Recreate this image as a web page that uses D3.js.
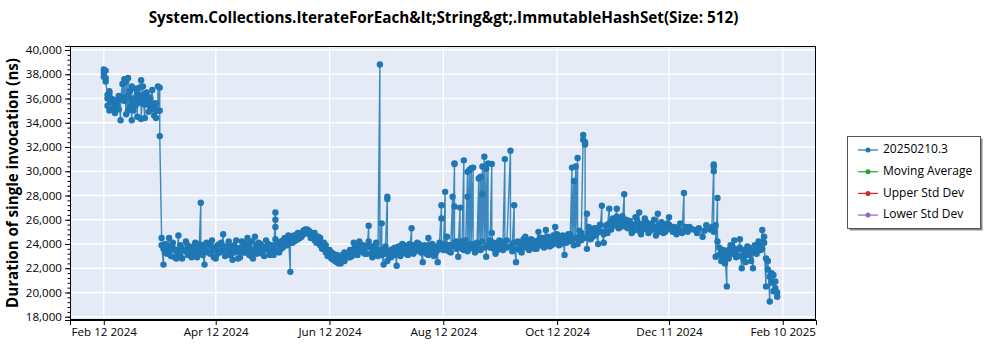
<!DOCTYPE html>
<html><head><meta charset="utf-8">
<script src="https://cdn.jsdelivr.net/npm/d3@7"></script>
<style>body{margin:0;background:#fff;} svg text{font-family:"Open Sans","Noto Sans",sans-serif;}</style>
</head><body><svg id="c" width="1000" height="350"></svg>
<script>
const chartTitle = "System.Collections.IterateForEach&lt;String&gt;.ImmutableHashSet(Size: 512)";
const yAxisTitle = "Duration of single invocation (ns)";
const startDate = "2024-02-12";
const seriesNames = ["20250210.3", "Moving Average", "Upper Std Dev", "Lower Std Dev"];
const seriesColors = ["#1f77b4", "#2ca02c", "#d62728", "#9467bd"];
const xTickLabels = ["Feb 12 2024", "Apr 12 2024", "Jun 12 2024", "Aug 12 2024", "Oct 12 2024", "Dec 11 2024", "Feb 10 2025"];
const yTickValues = [18000, 20000, 22000, 24000, 26000, 28000, 30000, 32000, 34000, 36000, 38000, 40000];

// day offsets from startDate
const runDays = [
  0,1,2,3,4,5,6,7,8,9,
  10,11,12,13,14,15,16,17,18,19,
  20,21,22,23,24,25,26,27,28,29,
  30,31,32,33,34,35,36,37,38,39,
  40,41,42,44,45,46,47,48,49,50,
  51,52,53,54,55,56,57,58,59,60,
  61,62,63,64,65,66,67,68,69,70,
  71,72,73,74,75,76,77,78,79,80,
  81,82,83,84,85,86,87,88,89,90,
  91,92,93,94,95,96,97,98,99,100,
  101,102,103,104,105,106,107,108,109,110,
  111,112,113,114,115,116,117,118,119,120,
  121,122,123,124,125,126,127,128,129,131,
  132,133,134,135,136,137,138,139,140,141,
  142,143,144,145,146,147,148,149,150,151,
  152,153,154,155,156,157,158,159,160,161,
  162,163,164,165,166,167,168,169,170,171,
  172,173,174,175,176,177,178,179,180,181,
  182,183,184,185,186,187,188,189,190,191,
  192,193,194,195,196,197,198,199,200,201,
  202,203,204,205,206,207,208,209,210,211,
  212,213,214,215,216,218,219,220,221,222,
  223,224,225,226,227,228,229,230,231,232,
  233,234,235,236,237,238,239,240,241,242,
  243,244,245,246,247,248,249,250,251,252,
  253,254,255,256,257,258,259,260,261,262,
  263,264,265,266,267,268,269,270,271,272,
  273,274,275,276,277,278,279,280,281,282,
  283,284,285,286,287,288,289,290,291,292,
  293,294,295,296,297,298,299,300,301,302,
  303,305,306,307,308,309,310,311,312,313,
  314,316,318,319,321,322,323,325,326,327,
  328,329,330,331,332,333,334,335,336,337,
  338,339,340,341,342,343,344,345,346,347,
  348,349,350,351,352,353,354,355,356,357,
  358,359,360,361
];
// measurements (ns) for each of those days, in run order
const runValues = [
  [38400,38100,37800],[38300,37700,37400],[36300,35400,36000],[36400,35000,36600],[36000,35700],[35200,35900],[35500,35800,34800],[35600,35900],[35100,36200],[34200,35900],
  [37200,36100],[37600,35800,37300],[34700,37400],[35000,37700,36200],[35300,36600],[34200,37000,35800],[35000,36000],[36800,35400],[36400,34500,35800],[36000,36900],
  [37500,35600,34300],[37000,36300],[34400,35500,36000],[35800,36500],[34900,36100,35500],[35300,36000],[36700,35100],[35500,34600,35600],[34400,35600],[35000,37000,35000],
  [36900,35000,32900],[24500,23900],[22300,23600],[24000,23300],[23200,23800],[24500,23400],[23000,23700],[23700,24100],[22900,23500],[23500,22800],
  [24700,23300],[23900,23100],[22800,23600],[24200,23400],[23100,23900],[23700,23400],[22900,23600],[23800,23000],[24100,23300],[23600,22900],
  [24000,23200],[27400,23500],[23900,23100],[22300,23700],[23400,24100],[24000,23300],[23200,23900],[23800,24300],[23500,22900],[22800,23600],
  [23900,23200],[23300,24000],[24100,23400],[24800,23600],[23000,23800],[23700,23100],[24200,23500],[23100,23800],[23600,22700],[23900,23300],
  [24300,23500],[23400,22800],[22900,23700],[23700,24200],[24100,23300],[23300,23900],[24500,23600],[23800,23100],[24200,23000],[22800,23500],
  [24600,23500],[23900,23200],[23300,24100],[24000,23400],[23200,23800],[23700,23000],[24300,23600],[23500,24000],[23100,23700],[23900,23300],
  [23600,23100],[26600,26000,25400,24400],[24000,23400],[23300,23900],[24200,23600],[23700,24300],[24500,23900],[23900,24400],[24300,24700],[21700,24100],
  [24600,24100],[24200,24700],[24700,24300],[24400,24900],[24800,24500],[24900,24600],[25100,24800],[25200,24900],[25000,25200],[25100,24800],
  [24800,24500],[24600,24900],[24900,24300],[24400,24100],[24200,24600],[24500,23900],[24000,23600],[23700,24100],[23900,23300],[23400,23000],
  [23100,23500],[23300,22800],[22700,23200],[23000,22600],[22500,23100],[22800,22400],[22400,22900],[23100,22700],[22600,23300],[23200,22900],
  [22900,23500],[23400,23000],[24100,23600],[23300,23800],[23600,23100],[24200,23500],[23500,23900],[23900,23300],[23200,23700],[23800,23200],
  [25500,24200],[23200,23700],[23800,22900],[23500,23100],[24100,23600],[23000,23500],[38800,23400],[25700,23100],[22300,23600],[23200,23800],
  [27900,27700,22600],[23400,23000],[22900,23500],[23600,23200],[23100,23700],[22200,23500],[23800,23300],[23000,23600],[24000,23400],[23400,23900],
  [23700,23200],[23100,23800],[24000,23500],[25300,23600],[23200,23900],[23900,23400],[24100,23600],[23500,24000],[23800,23300],[22500,23400],
  [23300,23900],[23700,23200],[24500,23100],[23900,23500],[23400,24000],[23000,23600],[23800,23300],[22500,23500],[23600,24100],[27200,26100,23700],
  [24000,23500],[28300,23500],[24600,23900],[23900,23400],[23300,23900],[27900,23800],[30650,30600,27100,24100],[23600,24200],[22950,23700],[27000,23800],
  [24200,23600],[30900,23500],[23900,24300],[29950,27900,23400],[30100,23700],[30250,24000],[30300,23600],[23300,23900],[24100,23500],[29400,23800],
  [29550,23500],[30400,28100,24200],[31200,23700],[30200,22950],[30650,23900],[24300,23700],[30600,24900],[23600,24100],[23200,23800],[24000,23500],
  [23700,24300],[24200,23600],[23500,24000],[31000,23900],[24300,23700],[31700,23800],[23400,24000],[27200,24100],[22500,23600],[23600,24200],
  [24000,23500],[23300,23900],[23900,24400],[24600,23700],[24200,23800],[23500,24100],[24400,23900],[23800,24300],[24100,23600],[23600,24200],
  [25000,24300],[23900,24500],[24500,24000],[23700,24300],[25150,24200],[24600,24100],[23800,24400],[24400,23900],[24000,24700],[25400,24700],
  [24300,24800],[23900,24500],[24500,24000],[24100,24700],[23100,24300],[24600,24100],[24200,24800],[24800,24300],[30300,24400],[29200,23900],
  [30400,24500],[31100,24000],[24600,25100],[24300,24900],[33000,32600],[32400,32200,24500],[26500,23600],[24900,25400],[24400,25000],[25100,24600],
  [24700,25300],[25300,24800],[24000,25100],[25600,25000],[27150,25000],[24100,24800],[25500,25000],[24900,25600],[26900,25700],[25200,25800],
  [26100,25500],[25600,26000],[26900,26250],[25900,25300],[25400,26000],[26300,25700],[28100,25800],[26000,25400],[25300,25900],[25900,25400],
  [24900,25500],[25600,25100],[26200,25600],[25500,25900],[26600,25100],[24800,25400],[25700,25200],[26100,25500],[25300,25800],[24900,25400],
  [25600,25100],[25200,25700],[26000,25400],[24700,25200],[26500,25400],[25000,25600],[25800,25200],[24900,25500],[25500,25000],[25200,25700],
  [26200,25600],[25000,25400],[25400],[24800,25200],[25300],[25700,25100],[24900],[28200,25100],[25400],[25000],
  [25400],[25200],[24900],[25300],[24600],[25100],[25550],[25200],[25400],[30550,30400,30000,25000],
  [25550,22950],[27800,24200],[23100,23700],[22600,23400],[23500,22900],[22400,23200],[20500,23300],[22800,23500],[23900,23200],[23200,23800],
  [24300,23600],[22900,23400],[23600,23000],[24400,23700],[22000,23000],[23500,22800],[22500,23300],[23800,23100],[23100,23700],[22600,23300],
  [22000,23400],[23900,23300],[23200,23800],[23800,24200],[24000,23500],[25150,23600],[24600,24100],[20500,22800],[21900,22600],[19250,21300],
  [21600,20800],[21450,20100],[20350,20900],[19650,20000]
];

const svg = d3.select("#c");
const L = 70, R = 816, T = 46, B = 320;
const start = d3.timeParse("%Y-%m-%d")(startDate);
const toDate = d => new Date(+start + d * 864e5);
const x = d3.scaleTime().domain([toDate(-18.12), toDate(381.8)]).range([L, R]);
const y = d3.scaleLinear().domain([17730, 40330]).range([B, T]);
const parseTick = d3.timeParse("%b %d %Y");
const xTickDates = xTickLabels.map(parseTick);

const points = runDays.flatMap((d, i) => runValues[i].map(v => ({date: toDate(d), v})));

// plot background
svg.append("rect").attr("x", L).attr("y", T).attr("width", R - L).attr("height", B - T).attr("fill", "#e5ebf6");
// grid
const g = svg.append("g");
g.selectAll("line.gy").data(yTickValues).join("line")
  .attr("x1", L).attr("x2", R).attr("y1", d => y(d)).attr("y2", d => y(d))
  .attr("stroke", "#fff").attr("stroke-width", 1.3);
g.selectAll("line.gx").data(xTickDates).join("line")
  .attr("y1", T).attr("y2", B).attr("x1", d => x(d)).attr("x2", d => x(d))
  .attr("stroke", "#fff").attr("stroke-width", 1.3);

// series
svg.append("clipPath").attr("id", "pc").append("rect")
  .attr("x", L).attr("y", T).attr("width", R - L).attr("height", B - T);
const ds = svg.append("g").attr("clip-path", "url(#pc)");
ds.append("path").datum(points)
  .attr("d", d3.line().x(p => x(p.date)).y(p => y(p.v)))
  .attr("fill", "none").attr("stroke", seriesColors[0]).attr("stroke-width", 1.4).attr("stroke-opacity", 0.85);
ds.selectAll("circle").data(points).join("circle")
  .attr("cx", p => x(p.date)).attr("cy", p => y(p.v)).attr("r", 3.2)
  .attr("fill", seriesColors[0]);

// frame
svg.append("rect").attr("x", L + 0.5).attr("y", T + 0.5).attr("width", R - L - 1).attr("height", B - T - 1)
  .attr("fill", "none").attr("stroke", "#000").attr("stroke-width", 1);

// y axis
svg.append("g").attr("transform", `translate(${L},0)`)
  .call(d3.axisLeft(y).tickValues(yTickValues).tickFormat(d3.format(",")).tickSize(5).tickPadding(3));
svg.append("g").attr("transform", `translate(${L},0)`)
  .call(d3.axisLeft(y).tickValues(d3.range(18000, 40001, 400)).tickFormat("").tickSize(2.5))
  .call(s => s.select(".domain").remove());
// x axis
svg.append("g").attr("transform", `translate(0,${B})`)
  .call(d3.axisBottom(x).tickValues(xTickDates).tickFormat((d, i) => xTickLabels[i]).tickSize(5).tickPadding(3));
svg.selectAll(".tick text").attr("font-size", 11.6).attr("fill", "#000").style("font-family", "'Open Sans', sans-serif");
svg.selectAll(".domain, .tick line").attr("stroke", "#000");

function fit(sel, target) {
  const w = sel.node().getComputedTextLength();
  sel.attr("font-size", parseFloat(sel.attr("font-size")) * target / w);
}
// title
const tt = svg.append("text").attr("x", 443.5).attr("y", 19).attr("text-anchor", "middle")
  .attr("dominant-baseline", "middle").attr("font-weight", "bold").attr("font-size", 15).attr("fill", "#000")
  .text(chartTitle);
fit(tt, 590);
// y title
const yt = svg.append("text").attr("transform", "translate(14,183) rotate(-90)").attr("text-anchor", "middle")
  .attr("dominant-baseline", "middle").attr("font-weight", "bold").attr("font-size", 16).attr("fill", "#000")
  .text(yAxisTitle);
fit(yt, 250);

// legend
const lg = svg.append("g");
lg.append("rect").attr("x", 849.5).attr("y", 138.5).attr("width", 133).attr("height", 92).attr("fill", "#8a8a8a");
lg.append("rect").attr("x", 847.5).attr("y", 136.5).attr("width", 133).attr("height", 92)
  .attr("fill", "#fff").attr("stroke", "#555").attr("stroke-width", 1);
seriesNames.forEach((name, i) => {
  const cy = 150 + i * 21.7;
  lg.append("line").attr("x1", 858).attr("x2", 878).attr("y1", cy).attr("y2", cy)
    .attr("stroke", seriesColors[i]).attr("stroke-width", 1.2);
  lg.append("circle").attr("cx", 868).attr("cy", cy).attr("r", 2.5).attr("fill", seriesColors[i]);
  lg.append("text").attr("x", 883).attr("y", cy).attr("dominant-baseline", "middle")
    .attr("font-size", 12).attr("fill", "#000").text(name);
});
</script></body></html>
